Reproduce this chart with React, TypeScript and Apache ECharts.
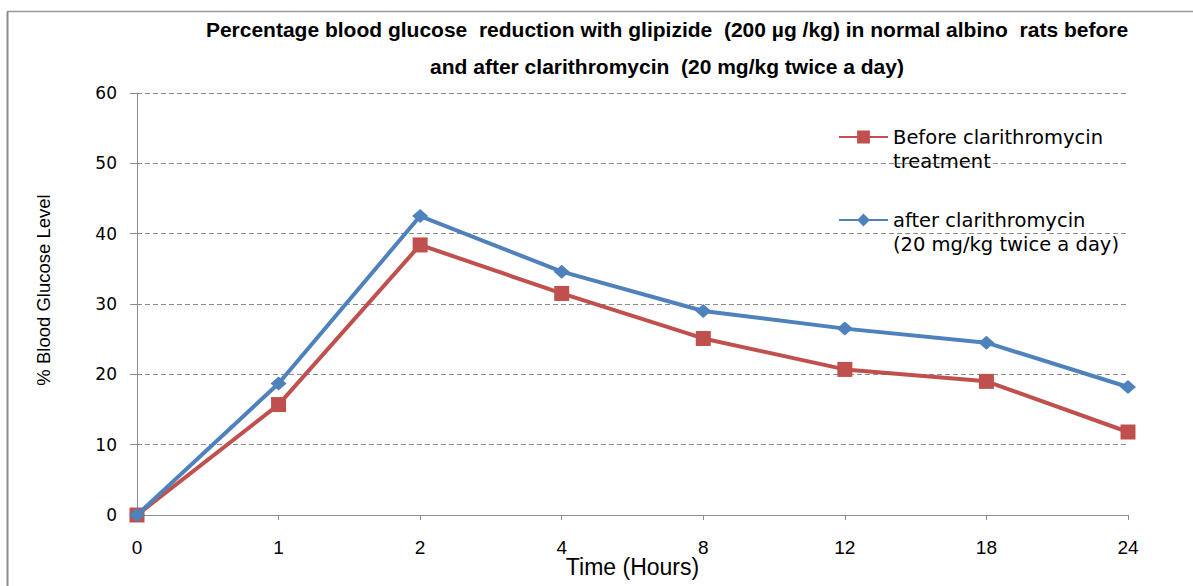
import React, { useEffect, useRef } from "react";
import * as echarts from "echarts";

const categories = ["0", "1", "2", "4", "8", "12", "18", "24"];
const beforeValues = [0, 15.7, 38.4, 31.5, 25.1, 20.7, 19.0, 11.8];
const afterValues = [0, 18.7, 42.5, 34.6, 29.0, 26.5, 24.5, 18.2];
const beforeName = "Before clarithromycin\ntreatment";
const afterName = "after clarithromycin\n(20 mg/kg twice a day)";
const titleText =
  "Percentage blood glucose  reduction with glipizide  (200 \u00b5g /kg) in normal albino  rats before\nand after clarithromycin  (20 mg/kg twice a day)";

export default function App() {
  const ref = useRef<HTMLDivElement>(null);
  useEffect(() => {
    document.body.style.margin = "0";
    if (!ref.current) return;
    const chart = echarts.init(ref.current, null, { renderer: "svg" });
    const gray = "#8c8c8c";
    chart.setOption({
      animation: false,
      backgroundColor: "#ffffff",
      title: {
        text: titleText,
        left: 667,
        textAlign: "center",
        top: 11,
        padding: 0,
        textStyle: {
          fontFamily: "Liberation Sans",
          fontWeight: "bold",
          fontSize: 21,
          lineHeight: 37,
          color: "#000",
        },
      },
      legend: {
        orient: "vertical",
        left: 838,
        top: 101,
        padding: 0,
        itemGap: 11,
        itemWidth: 49,
        itemHeight: 16,
        data: [beforeName, afterName],
        formatter: (name: string) => " \n" + name,
        textStyle: {
          fontFamily: "DejaVu Sans",
          fontSize: 19.5,
          lineHeight: 24,
          color: "#000",
        },
      },
      grid: {
        left: 137,
        right: 65,
        top: 93,
        bottom: 71,
        containLabel: false,
        outerBoundsMode: "none",
      },
      xAxis: {
        type: "category",
        data: categories,
        boundaryGap: false,
        name: "Time (Hours)",
        nameLocation: "middle",
        nameGap: 40,
        nameMoveOverlap: false,
        nameTextStyle: { fontFamily: "Liberation Sans", fontSize: 23, color: "#000" },
        axisLine: { lineStyle: { color: gray, width: 1 } },
        axisTick: { show: true, length: 5, lineStyle: { color: gray } },
        axisLabel: { margin: 23, fontFamily: "Liberation Sans", fontSize: 19, color: "#000" },
        splitLine: { show: false },
      },
      yAxis: {
        type: "value",
        min: 0,
        max: 60,
        interval: 10,
        name: "% Blood Glucose Level",
        nameLocation: "middle",
        nameGap: 84,
        nameRotate: 90,
        nameMoveOverlap: false,
        nameTextStyle: {
          fontFamily: "Liberation Sans",
          fontSize: 18.5,
          color: "#000",
          padding: [0, 0, 0, 28],
        },
        axisLine: { show: true, lineStyle: { color: gray, width: 1 } },
        axisTick: { show: true, length: 7, lineStyle: { color: gray } },
        axisLabel: { margin: 20, fontFamily: "DejaVu Sans", fontSize: 17, color: "#000" },
        splitLine: { show: true, lineStyle: { color: gray, type: [5, 3], width: 1 } },
      },
      series: [
        {
          name: beforeName,
          type: "line",
          data: beforeValues,
          symbol: "rect",
          symbolSize: 15,
          itemStyle: { color: "#C0504D" },
          lineStyle: { color: "#C0504D", width: 4 },
          z: 2,
        },
        {
          name: afterName,
          type: "line",
          data: afterValues,
          symbol: "diamond",
          symbolSize: [16, 14],
          itemStyle: { color: "#4F81BD" },
          lineStyle: { color: "#4F81BD", width: 4 },
          z: 3,
        },
      ],
      graphic: [
        {
          type: "line",
          shape: { x1: 7.5, y1: 11.5, x2: 7.5, y2: 586 },
          style: { stroke: gray, lineWidth: 2 },
        },
        {
          type: "line",
          shape: { x1: 7, y1: 11.5, x2: 1193, y2: 11.5 },
          style: { stroke: "#999", lineWidth: 1.5 },
        },
      ],
    });
    return () => chart.dispose();
  }, []);
  return (
    <div
      ref={ref}
      style={{ position: "fixed", left: 0, top: 0, width: 1193, height: 586 }}
    />
  );
}
